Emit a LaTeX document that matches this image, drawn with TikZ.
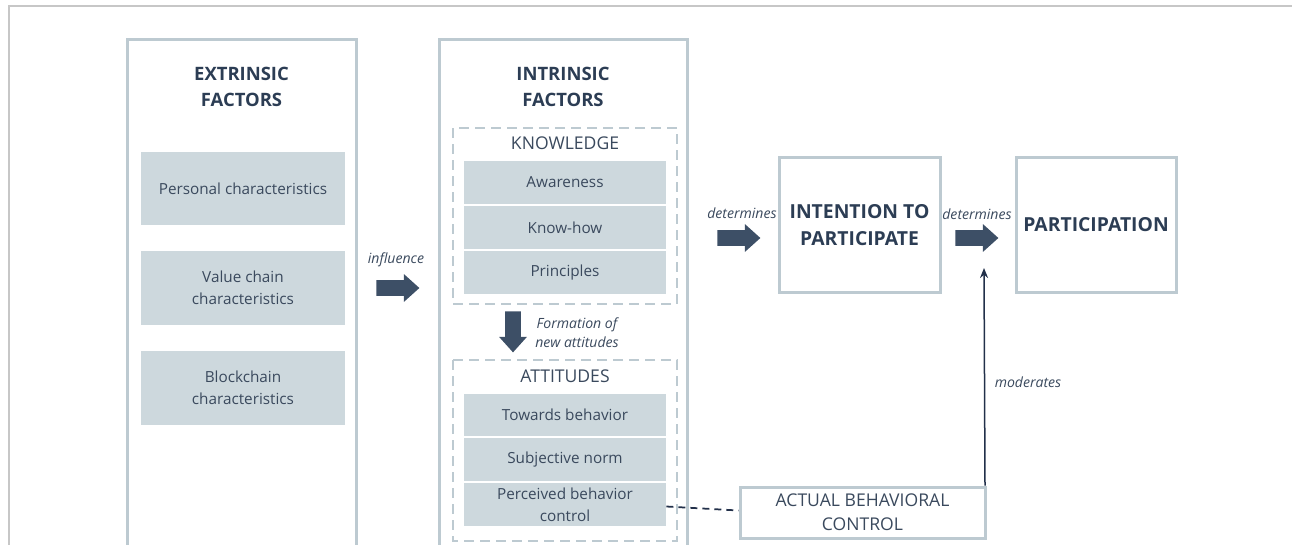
\documentclass[tikz,border=0pt]{standalone}
\usepackage{fontspec}
\setmainfont{Open Sans}
\usetikzlibrary{shapes.arrows,arrows.meta,positioning}
\definecolor{boxline}{HTML}{BDCAD1}
\definecolor{boxfill}{HTML}{CDD8DD}
\definecolor{navy}{HTML}{3D4F66}
\definecolor{linecol}{HTML}{22304A}
\definecolor{titlecol}{HTML}{2C3D54}
\definecolor{txtcol}{HTML}{3A495D}
\tikzset{
  panel/.style={draw=boxline, line width=0.6mm},
  group/.style={draw=boxline, line width=0.4mm, dash pattern=on 2mm off 1.2mm},
  item/.style={fill=boxfill, text=txtcol, font=\fontsize{8.7}{12.5}\selectfont, align=center, inner sep=0pt},
  heading/.style={text=titlecol, font=\bfseries\fontsize{10.5}{14.7}\selectfont, align=center},
  subhead/.style={text=txtcol, font=\fontsize{10}{13.6}\selectfont, align=center},
  outcome/.style={panel, text=titlecol, font=\bfseries\fontsize{11}{15}\selectfont, align=center, minimum height=26.8mm},
  verb/.style={text=txtcol, font=\itshape\fontsize{8}{10.8}\selectfont, align=center},
  bigarrow/.style={single arrow, fill=navy, draw=none, inner sep=1.5mm, single arrow head extend=1.2mm, single arrow tip angle=84, minimum height=8.6mm},
}
\begin{document}
\begin{tikzpicture}[x=0.2mm,y=-0.2mm]
    \useasboundingbox (0,0) rectangle (1292,545);
    \draw[draw=black!22, line width=0.4mm] (9,545)--(9,6)--(1292,6);

    % extrinsic
    \draw[panel] (127,545)--(127,40)--(356,40)--(356,545);
    \node[heading] (exttitle) at (241.5,87) {EXTRINSIC\\FACTORS};
    \node[item, minimum width=40.8mm, minimum height=14.6mm] (personal) at (243,188.5) {Personal characteristics};
    \node[item, minimum width=40.8mm, minimum height=14.8mm] (valuechain) at (243,288) {Value chain\\characteristics};
    \node[item, minimum width=40.8mm, minimum height=14.8mm] (blockchain) at (243,388) {Blockchain\\characteristics};

    \node[verb] (influence) at (396,260) {influence};
    \node[bigarrow] (infarrow) at (393.5,288) {};

    % intrinsic
    \draw[panel] (439,545)--(439,40)--(687,40)--(687,545);
    \node[heading] (inttitle) at (563,87) {INTRINSIC\\FACTORS};
    \draw[group] (453,128) rectangle (677,304);
    \node[subhead] (knowledge) at (565,143) {KNOWLEDGE};
    \node[item, minimum width=40.4mm, minimum height=8.6mm] (awareness) at (565,182.5) {Awareness};
    \node[item, minimum width=40.4mm, minimum height=8.6mm] (knowhow) at (565,227.5) {Know-how};
    \node[item, minimum width=40.4mm, minimum height=8.6mm] (principles) at (565,272.5) {Principles};

    \node[bigarrow, shape border rotate=270, minimum height=8.2mm] (formarrow) at (513,327.5) {};
    \node[verb] (formation) at (577,333) {Formation of\\new attitudes};

    \draw[group] (453,360) rectangle (677,541);
    \node[subhead] (attitudes) at (565,376) {ATTITUDES};
    \node[item, minimum width=40.4mm, minimum height=8.4mm] (towards) at (565,415) {Towards behavior};
    \node[item, minimum width=40.4mm, minimum height=8.6mm] (subjective) at (565,459.5) {Subjective norm};
    \node[item, minimum width=40.4mm, minimum height=8.6mm] (perceived) at (565,504.5) {Perceived behavior\\control};

    % outcomes
    \node[verb] (determinesA) at (742,213) {determines};
    \node[bigarrow] (detarrowA) at (734.5,238) {};
    \node[outcome, minimum width=32.2mm] (intention) at (859.5,225) {INTENTION TO\\PARTICIPATE};
    \node[verb] (determinesB) at (977,214) {determines};
    \node[bigarrow] (detarrowB) at (972.5,238) {};
    \node[outcome, minimum width=32mm] (participation) at (1096,225) {PARTICIPATION};

    \node[panel, subhead, minimum width=49mm, minimum height=10.2mm, inner sep=0pt] (actual) at (862.5,512.5) {ACTUAL BEHAVIORAL\\CONTROL};
    \draw[linecol, line width=0.35mm, dash pattern=on 1.4mm off 1mm] (perceived.east)++(0,2) -- ([yshift=0.4mm]actual.west);

    \coordinate (modtop) at (984,268);
    \draw[linecol, line width=0.3mm, -{Stealth[length=2mm,width=1.6mm]}] ([xshift=-0.3mm]actual.north east) -- (modtop);
    \node[verb] (moderates) at (1028,382) {moderates};
\end{tikzpicture}
\end{document}
